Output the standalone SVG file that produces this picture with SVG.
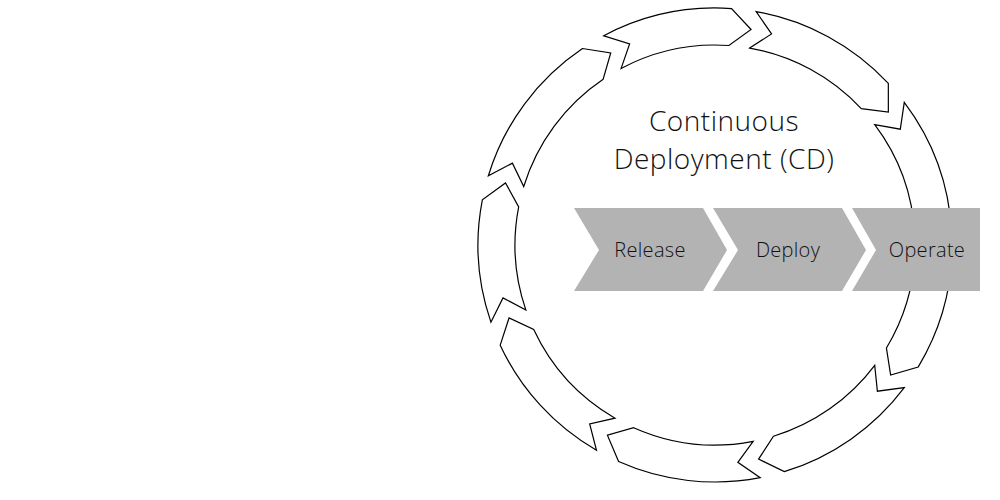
<svg xmlns="http://www.w3.org/2000/svg" width="1000" height="500" viewBox="0 0 1000 500">
<style>
.seg{fill:#fff;stroke:#000;stroke-width:1.2;stroke-linejoin:miter}
.chev{fill:#b3b3b3}
.t{font-family:"Open Sans",Inter,sans-serif;font-weight:300;fill:#111;text-anchor:middle}
</style>
<rect width="1000" height="500" fill="#fff"/>
<g id="cycle">
<g transform="translate(715,245) rotate(-118)"><path class="seg" d="M237,0 A237,237 0 0 1 200.98,125.59 L173.35,133.02 L169.6,105.98 A200,200 0 0 0 200,0 L217.67,19.04 Z"/></g>
<g transform="translate(715,245) rotate(-80)"><path class="seg" d="M237,0 A237,237 0 0 1 189.27,142.63 L161.1,147.62 L159.72,120.36 A200,200 0 0 0 200,0 L217.67,19.04 Z"/></g>
<g transform="translate(715,245) rotate(-37)"><path class="seg" d="M237,0 A237,237 0 0 1 88.78,219.75 L62.05,209.5 L74.92,185.44 A200,200 0 0 0 200,0 L217.67,19.04 Z"/></g>
<g transform="translate(715,245) rotate(37)"><path class="seg" d="M237,0 A237,237 0 0 1 191.73,139.31 L163.66,144.78 L161.8,117.56 A200,200 0 0 0 200,0 L217.67,19.04 Z"/></g>
<g transform="translate(715,245) rotate(79)"><path class="seg" d="M237,0 A237,237 0 0 1 194.14,135.94 L166.15,141.89 L163.84,114.72 A200,200 0 0 0 200,0 L217.67,19.04 Z"/></g>
<g transform="translate(715,245) rotate(120)"><path class="seg" d="M237,0 A237,237 0 0 1 194.14,135.94 L166.15,141.89 L163.84,114.72 A200,200 0 0 0 200,0 L217.67,19.04 Z"/></g>
<g transform="translate(715,245) rotate(161)"><path class="seg" d="M237,0 A237,237 0 0 1 205.25,118.5 L177.88,126.88 L173.21,100 A200,200 0 0 0 200,0 L217.67,19.04 Z"/></g>
<g transform="translate(715,245) rotate(197)"><path class="seg" d="M237,0 A237,237 0 0 1 184.17,149.14 L155.86,153.15 L155.42,125.86 A200,200 0 0 0 200,0 L217.67,19.04 Z"/></g>
</g>
<g id="title"><text class="t" x="724" y="131" font-size="28" letter-spacing="0.5">Continuous</text><text class="t" x="724" y="169" font-size="28" letter-spacing="0.5">Deployment (CD)</text></g>
<g id="release"><polygon class="chev" points="574,208 703,208 727,250 703,291 574,291 599,250"/><text class="t" x="650" y="257" font-size="20" letter-spacing="0.3">Release</text></g>
<g id="deploy"><polygon class="chev" points="713,208 842,208 866,250 842,291 713,291 738,250"/><text class="t" x="788" y="257" font-size="20" letter-spacing="0.3">Deploy</text></g>
<g id="operate"><polygon class="chev" points="852,208 980,208 980,291 852,291 876,250"/><text class="t" x="927" y="257" font-size="20" letter-spacing="0.3">Operate</text></g>
</svg>
